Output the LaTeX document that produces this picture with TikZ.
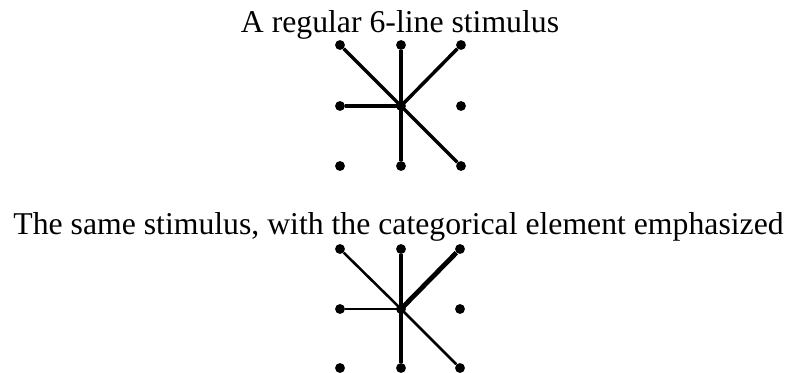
\documentclass[tikz,border=0pt]{standalone}
\usepackage{fontspec}
\setmainfont{Liberation Serif}

\begin{document}
\begin{tikzpicture}[x=0.75pt, y=-0.75pt, every node/.style={font=\fontsize{23.8}{28}\selectfont},
  dot/.style={circle, fill=black, inner sep=0pt, minimum size=7.4pt},
  stroke/.style={line width=2.6pt},
  strong/.style={line width=3.6pt},
  weak/.style={line width=1.9pt}]
\useasboundingbox (0,0) rectangle (791,373);

% regular stimulus
\node (title1) [anchor=base] at (400,33) {A regular 6-line stimulus};
\foreach \c/\x in {1/340,2/401,3/461}
  \foreach \r/\y in {1/45,2/106,3/166}
    \node (top\r\c) [dot] at (\x,\y) {};

\draw[stroke] (top22.center) -- (top11);
\draw[stroke] (top22.center) -- (top12);
\draw[stroke] (top22.center) -- (top13);
\draw[stroke] (top22.center) -- (top21);
\draw[stroke] (top22.center) -- (top32);
\draw[stroke] (top22.center) -- (top33);

% emphasized stimulus
\node (title2) [anchor=base] at (398.5,235) {The same stimulus, with the categorical element emphasized};
\foreach \c/\x in {1/340,2/401,3/460}
  \foreach \r/\y in {1/249,2/309,3/368}
    \node (bot\r\c) [dot] at (\x,\y) {};

\draw[weak] (bot22.center) -- (bot11);
\draw[strong] (bot22.center) -- (bot12);
\draw[strong] (bot22.center) -- (bot13);
\draw[weak] (bot22.center) -- (bot21);
\draw[strong] (bot22.center) -- (bot32);
\draw[weak] (bot22.center) -- (bot33);
\end{tikzpicture}
\end{document}
